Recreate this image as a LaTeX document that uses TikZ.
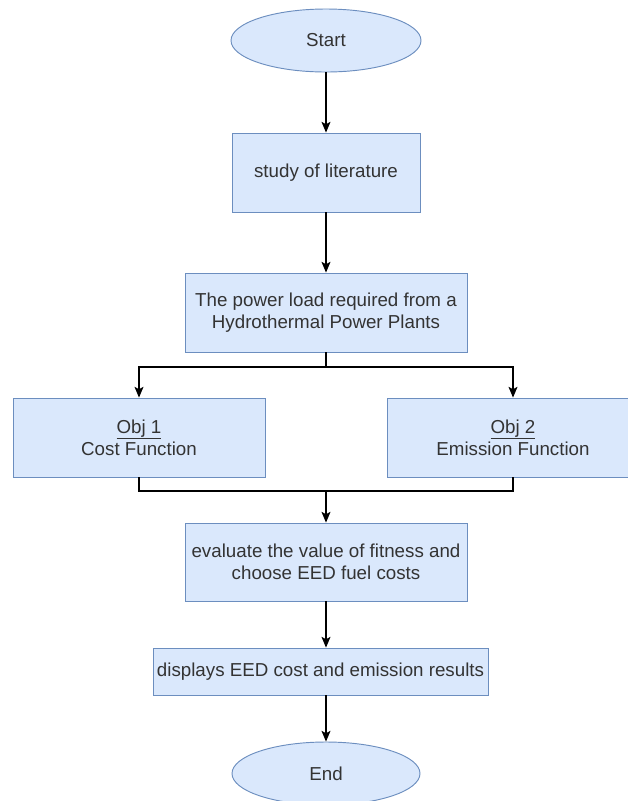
\documentclass[tikz,border=0pt]{standalone}
\usepackage{fontspec}
\setmainfont{Liberation Sans}
\usepackage{xcolor}
\usetikzlibrary{shapes}
\usetikzlibrary{arrows.meta}
\usetikzlibrary{calc}
\definecolor{boxfill}{HTML}{DAE8FC}
\definecolor{boxline}{HTML}{6C8EBF}
\definecolor{boxtext}{HTML}{333333}
\tikzstyle{flowbox}=[rectangle, draw=boxline, fill=boxfill, line width=0.8pt, text=boxtext, align=center, inner sep=0pt, font=\fontsize{16}{18.8}\selectfont]
\tikzstyle{terminal}=[ellipse, draw=boxline, fill=boxfill, line width=0.8pt, text=boxtext, inner sep=0pt, font=\fontsize{16}{18.8}\selectfont]
\tikzstyle{link}=[draw=black, line width=0.9pt]
\tikzstyle{arrow}=[link, -{Stealth[length=0.32cm, width=0.27cm, inset=0.07cm]}]

\begin{document}
\begin{tikzpicture}[x=0.03cm, y=-0.03cm]
	\useasboundingbox (0,0) rectangle (628,801);
	\clip (0,0) rectangle (628,801);
	\node[terminal, minimum width=5.7cm, minimum height=1.89cm] (start) at (326,40.5) {Start};
	\node[flowbox, minimum width=5.64cm, minimum height=2.37cm] (study) at (326,172.5) {study of literature};
	\node[flowbox, minimum width=8.46cm, minimum height=2.37cm] (load) at (326,312.5) {The power load required from a\\Hydrothermal Power Plants};
	\node[flowbox, minimum width=7.56cm, minimum height=2.37cm] (obj1) at (139,437.5) {\underline{Obj 1}\\Cost Function};
	\node[flowbox, minimum width=7.56cm, minimum height=2.37cm] (obj2) at (513,437.5) {\underline{Obj 2}\\Emission Function};
	\node[flowbox, minimum width=8.46cm, minimum height=2.34cm] (fitness) at (326,562) {evaluate the value of fitness and\\choose EED fuel costs};
	\node[flowbox, minimum width=10.05cm, minimum height=1.41cm] (results) at (320.5,671.5) {displays EED cost and emission results};
	\node[terminal, minimum width=5.64cm, minimum height=1.89cm] (end) at (326,773.5) {End};
	\coordinate (split) at (326,367);
	\coordinate (join) at (326,491);
	\draw[arrow] (start) -- (study);
	\draw[arrow] (study) -- (load);
	\draw[link] (load.south) -- (split);
	\draw[arrow] (split) -| (obj1.north);
	\draw[arrow] (split) -| (obj2.north);
	\draw[link] (obj1.south) |- (join);
	\draw[link] (obj2.south) |- (join);
	\draw[arrow] (join) -- (fitness.north);
	\draw[arrow] (fitness.south) -- (fitness.south |- results.north);
	\draw[arrow] (end.north |- results.south) -- (end.north);
\end{tikzpicture}
\end{document}
